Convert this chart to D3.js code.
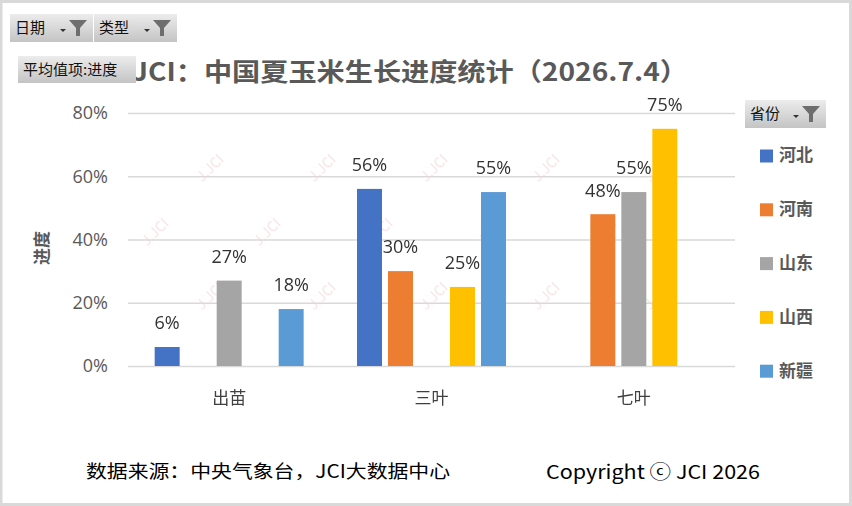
<!DOCTYPE html>
<html>
<head>
<meta charset="utf-8">
<script src="https://cdn.jsdelivr.net/npm/d3@7"></script>
<style>
  body { margin: 0; background: #fff; }
  text { font-family: "Noto Sans CJK SC", "Noto Sans", sans-serif; }
</style>
</head>
<body>
<div id="chart"></div>
<script>
const categories = ["出苗", "三叶", "七叶"]
const provinces = ["河北", "河南", "山东", "山西", "新疆"]
const colors = ["#4472C4", "#ED7D31", "#A5A5A5", "#FFC000", "#5B9BD5"]
// progress per province, one value per category (null = no bar)
const hebei = [0.06, 0.56, null]
const henan = [null, 0.30, 0.48]
const shandong = [0.27, null, 0.55]
const shanxi = [null, 0.25, 0.75]
const xinjiang = [0.18, 0.55, null]
const yTicks = [0, 0.2, 0.4, 0.6, 0.8]

const series = [hebei, henan, shandong, shanxi, xinjiang]
const W = 852, H = 506
const plot = { left: 128, right: 735, top: 113, bottom: 366 }

const svg = d3.select("#chart").append("svg")
  .attr("width", W).attr("height", H)

// frame
svg.append("rect").attr("x", 1).attr("y", 1.5).attr("width", W - 2.5).attr("height", H - 3)
  .attr("fill", "#fff").attr("stroke", "#d9d9d9").attr("stroke-width", 3)

const x0 = d3.scaleBand().domain(categories)
  .range([plot.left, plot.right]).paddingInner(0.234).paddingOuter(0.117)
const x1 = d3.scaleBand().domain(provinces)
  .range([0, x0.bandwidth()]).paddingInner(0.194).paddingOuter(0.097)
const y = d3.scaleLinear().domain([0, 0.8]).range([plot.bottom, plot.top])

/* gridlines + y labels */
const yAxis = svg.append("g")
  .attr("transform", `translate(${plot.left},0)`)
  .call(d3.axisLeft(y).tickValues(yTicks).tickFormat(d3.format(".0%"))
    .tickSize(-(plot.right - plot.left)).tickPadding(20))
yAxis.select(".domain").remove()
yAxis.selectAll(".tick line").attr("stroke", "#d9d9d9").attr("stroke-width", 1.5)
yAxis.selectAll(".tick text").style("font-size", "18px").attr("fill", "#595959")
  .style("font-family", "'Open Sans', 'Noto Sans', sans-serif")

/* watermarks, only inside the plot */
const wm = svg.append("g").attr("fill", "#f3d3d3").attr("opacity", 0.6)
const wmPts = []
for (let r = 0; r < 3; r++) {
  for (let c = 0; c < 5; c++) {
    wmPts.push([210 + c * 112 - (r % 2) * 55, 168 + r * 64])
  }
}
wm.selectAll("text").data(wmPts).join("text")
  .attr("transform", d => `translate(${d[0]},${d[1]}) rotate(-45)`)
  .attr("text-anchor", "middle").attr("dy", "0.35em")
  .style("font-size", "14px")
  .text("J.JCI")

/* x labels */
svg.append("g").selectAll("text").data(categories).join("text")
  .attr("x", d => x0(d) + x0.bandwidth() / 2).attr("y", 398).attr("dy", "0.35em")
  .attr("text-anchor", "middle").style("font-size", "17px").attr("fill", "#404040")
  .text(d => d)

/* bars */
const bars = []
series.forEach((vals, i) => {
  vals.forEach((v, j) => {
    if (v != null) bars.push({ cat: categories[j], prov: provinces[i], color: colors[i], v })
  })
})
svg.append("g").selectAll("rect").data(bars).join("rect")
  .attr("x", d => x0(d.cat) + x1(d.prov))
  .attr("y", d => y(d.v))
  .attr("width", x1.bandwidth())
  .attr("height", d => y(0) - y(d.v))
  .attr("fill", d => d.color)

svg.append("g").selectAll("text").data(bars).join("text")
  .attr("x", d => x0(d.cat) + x1(d.prov) + x1.bandwidth() / 2)
  .attr("y", d => y(d.v) - 24).attr("dy", "0.35em")
  .attr("text-anchor", "middle")
  .style("font-size", "18px").style("font-family", "'Open Sans', 'Noto Sans', sans-serif")
  .attr("fill", "#333")
  .text(d => d3.format(".0%")(d.v))

/* y title */
svg.append("text")
  .attr("transform", "translate(42,248) rotate(-90)")
  .attr("text-anchor", "middle").attr("dy", "0.35em")
  .style("font-size", "17px").style("font-weight", "bold").attr("fill", "#595959")
  .text("进度")

/* title */
svg.append("text")
  .attr("x", 132).attr("y", 72).attr("dy", "0.35em")
  .style("font-size", "25px").style("font-weight", "bold").attr("fill", "#595959")
  .attr("textLength", 556).attr("lengthAdjust", "spacingAndGlyphs")
  .text("JCI：中国夏玉米生长进度统计（2026.7.4）")

/* pivot buttons */
const grad = svg.append("defs").append("linearGradient")
  .attr("id", "btn").attr("x1", 0).attr("y1", 0).attr("x2", 0).attr("y2", 1)
grad.append("stop").attr("offset", "0%").attr("stop-color", "#ececec")
grad.append("stop").attr("offset", "100%").attr("stop-color", "#c4c4c4")

function addButton(x, yy, w, h, label, funnel) {
  const g = svg.append("g").attr("transform", `translate(${x},${yy})`)
  g.append("rect").attr("width", w).attr("height", h).attr("fill", "url(#btn)")
  g.append("text").attr("x", 5).attr("y", h / 2).attr("dy", "0.35em")
    .style("font-size", "15px").attr("fill", "#111").text(label)
  if (funnel) {
    g.append("path").attr("d", `M${w - 33},${h / 2 + 1}h6l-3,3z`).attr("fill", "#333")
    g.append("path")
      .attr("d", `M${w - 24},${h / 2 - 8}h18l-7,8v8h-4v-8z`)
      .attr("fill", "#6e6e6e")
  }
}
addButton(10, 14, 83, 28, "日期", true)
addButton(94, 14, 83, 28, "类型", true)
addButton(18, 56, 118, 27, "平均值项:进度", false)
addButton(745, 100, 81, 28, "省份", true)

/* legend */
const legend = svg.append("g").selectAll("g").data(provinces).join("g")
  .attr("transform", (d, i) => `translate(760,${155.5 + i * 53.8})`)
legend.append("rect").attr("y", -6).attr("width", 13).attr("height", 13)
  .attr("fill", (d, i) => colors[i])
legend.append("text").attr("x", 19).attr("dy", "0.35em")
  .style("font-size", "17px").style("font-weight", "bold").attr("fill", "#595959")
  .text(d => d)

/* footer */
svg.append("text").attr("x", 86).attr("y", 472).attr("dy", "0.35em")
  .style("font-size", "18px").attr("fill", "#000")
  .attr("textLength", 364).attr("lengthAdjust", "spacingAndGlyphs")
  .text("数据来源：中央气象台，JCI大数据中心")
svg.append("text").attr("x", 546).attr("y", 472).attr("dy", "0.35em")
  .style("font-size", "19px").attr("fill", "#000")
  .attr("textLength", 214).attr("lengthAdjust", "spacingAndGlyphs")
  .text("Copyright ⓒ JCI 2026")
</script>
</body>
</html>
